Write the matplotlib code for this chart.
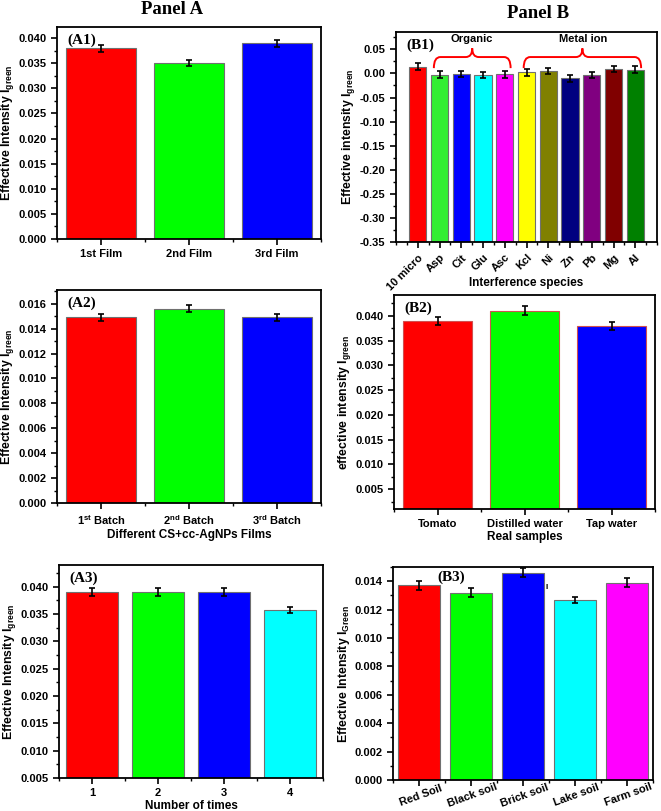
import numpy as np
import matplotlib
matplotlib.use("Agg")
import matplotlib.pyplot as plt
from matplotlib.path import Path
from matplotlib.patches import PathPatch
from matplotlib.ticker import MultipleLocator, AutoMinorLocator, FormatStrFormatter

plt.rcParams["font.family"] = ["Liberation Sans", "DejaVu Sans"]
plt.rcParams["font.weight"] = "bold"
plt.rcParams["mathtext.fontset"] = "custom"
plt.rcParams["mathtext.rm"] = "Liberation Sans:bold"
plt.rcParams["mathtext.it"] = "Liberation Sans:bold"
plt.rcParams["mathtext.bf"] = "Liberation Sans:bold"

# Panel A data
a1_labels = ["1st Film", "2nd Film", "3rd Film"]
a1_values = [0.038, 0.035, 0.039]
a1_errors = [0.0007, 0.0006, 0.0007]

a2_labels = ["1$^{st}$ Batch", "2$^{nd}$ Batch", "3$^{rd}$ Batch"]
a2_values = [0.0149, 0.0156, 0.0149]
a2_errors = [0.0003, 0.0003, 0.0003]

a3_labels = ["1", "2", "3", "4"]
a3_values = [0.0390, 0.0390, 0.0390, 0.0358]
a3_errors = [0.0007, 0.0007, 0.0007, 0.0006]

# Panel B data
b1_labels = ["10 micro", "Asp", "Cit", "Glu", "Asc", "Kcl", "Ni", "Zn", "Pb", "Mg", "Al"]
b1_values = [0.014, -0.003, -0.002, -0.003, -0.002, 0.002, 0.005, -0.010, -0.004, 0.009, 0.008]
b1_errors = [0.007, 0.007, 0.006, 0.006, 0.007, 0.007, 0.007, 0.007, 0.006, 0.007, 0.007]

b2_labels = ["Tomato", "Distilled water", "Tap water"]
b2_values = [0.039, 0.041, 0.038]
b2_errors = [0.0008, 0.0009, 0.0008]

b3_labels = ["Red Soil", "Black soil", "Brick soil", "Lake soil", "Farm soil"]
b3_values = [0.0137, 0.0132, 0.0146, 0.0127, 0.0139]
b3_errors = [0.0003, 0.0003, 0.0003, 0.0002, 0.0003]

rgb3 = ["#ff0000", "#00ff00", "#0000ff"]
rgb4 = ["#ff0000", "#00ff00", "#0000ff", "#00ffff"]
b1_colors = ["#ff0000", "#33ee33", "#0000ff", "#00ffff", "#ff00ff", "#ffff00",
             "#808000", "#000080", "#800080", "#800000", "#008000"]
b3_colors = ["#ff0000", "#00ff00", "#0000ff", "#00ffff", "#ff00ff"]

W, H = 661, 811
fig = plt.figure(figsize=(W / 100, H / 100), dpi=100)


def make_axes(l, r, t, b):
    return fig.add_axes([l / W, 1 - b / H, (r - l) / W, (b - t) / H])


def style(ax, ylim, ystep, xlim, ylabel, xlabel=None, fmt="%.3f"):
    ax.set_ylim(*ylim)
    ax.set_xlim(*xlim)
    ax.yaxis.set_major_locator(MultipleLocator(ystep))
    ax.yaxis.set_minor_locator(AutoMinorLocator(2))
    ax.yaxis.set_major_formatter(FormatStrFormatter(fmt))
    ax.xaxis.set_minor_locator(MultipleLocator(0.5))
    ax.tick_params(axis="both", which="major", direction="out", length=4, width=1.2,
                   labelsize=8, top=False, right=False)
    ax.tick_params(axis="both", which="minor", direction="out", length=2, width=1,
                   top=False, right=False)
    for s in ax.spines.values():
        s.set_linewidth(1.3)
    ax.set_ylabel(ylabel, fontsize=8.8, fontweight="bold", labelpad=2)
    if xlabel:
        ax.set_xlabel(xlabel, fontsize=8.5, fontweight="bold", labelpad=1)


def bars(ax, labels, values, errors, colors, width=0.8, bottom=0, edge="#707070"):
    x = np.arange(1, len(values) + 1)
    vals = np.array(values)
    ax.bar(x, vals - bottom, bottom=bottom, width=width, color=colors,
           edgecolor=edge, linewidth=0.8, zorder=2)
    ax.errorbar(x, vals, yerr=errors, fmt="none", ecolor="black", elinewidth=1.2,
                capsize=2.5, capthick=1.2, zorder=3)
    ax.set_xticks(x)
    ax.set_xticklabels(labels)
    return x


def panel_tag(ax, tag, x=0.04, y=0.97):
    ax.text(x, y, tag, transform=ax.transAxes, ha="left", va="top",
            family="Liberation Serif", fontweight="bold", fontsize=11)


def brace(ax, x0, x1, y_end, y_line, y_peak, color="red"):
    xm = (x0 + x1) / 2
    r = 0.3
    verts = [(x0, y_end), (x0, y_line), (x0 + r, y_line),
             (xm - r, y_line), (xm, y_line), (xm, y_peak),
             (xm, y_line), (xm + r, y_line),
             (x1 - r, y_line), (x1, y_line), (x1, y_end)]
    codes = [Path.MOVETO, Path.CURVE3, Path.CURVE3,
             Path.LINETO, Path.CURVE3, Path.CURVE3,
             Path.CURVE3, Path.CURVE3,
             Path.LINETO, Path.CURVE3, Path.CURVE3]
    ax.add_patch(PathPatch(Path(verts, codes), facecolor="none", edgecolor=color,
                           linewidth=1.4, zorder=4))


lbl = "Effective Intensity I$_{\\mathrm{green}}$"

# A1
ax = make_axes(57, 321, 27, 239)
bars(ax, a1_labels, a1_values, a1_errors, rgb3)
style(ax, (0, 0.0422), 0.005, (0.5, 3.5), lbl)
panel_tag(ax, "(A1)")

# A2
ax = make_axes(57, 321, 290, 503)
bars(ax, a2_labels, a2_values, a2_errors, rgb3)
style(ax, (0, 0.0171), 0.002, (0.5, 3.5), lbl, "Different CS+cc-AgNPs Films")
panel_tag(ax, "(A2)")

# A3
ax = make_axes(59, 323, 565, 778)
bars(ax, a3_labels, a3_values, a3_errors, rgb4, bottom=0.005)
style(ax, (0.005, 0.044), 0.005, (0.5, 4.5), lbl, "Number of times")
panel_tag(ax, "(A3)")

# B1
ax = make_axes(396, 657, 32, 242)
x = bars(ax, b1_labels, b1_values, b1_errors, b1_colors, bottom=-0.35)
style(ax, (-0.35, 0.086), 0.05, (0, 12), "Effective intensity I$_{\\mathrm{green}}$",
      "Interference species", fmt="%.2f")
ax.xaxis.set_label_coords(0.5, -0.165)
for t in ax.get_xticklabels():
    t.set_rotation(45)
    t.set_ha("right")
    t.set_rotation_mode("anchor")
panel_tag(ax, "(B1)", x=0.04, y=0.97)
brace(ax, x[1] - 0.26, x[4] + 0.27, 0.011, 0.034, 0.052)
brace(ax, x[5] - 0.13, x[10] + 0.27, 0.011, 0.034, 0.052)
ax.text((x[1] + x[4]) / 2, 0.0715, "Organic", ha="center", va="center", fontsize=8,
        fontweight="bold")
ax.text((x[5] + x[10]) / 2 + 0.1, 0.0715, "Metal ion", ha="center", va="center",
        fontsize=8, fontweight="bold")

# B2
ax = make_axes(394, 655, 295, 509)
bars(ax, b2_labels, b2_values, b2_errors, rgb3, bottom=0.001, edge="#d05050")
style(ax, (0.001, 0.0442), 0.005, (0.5, 3.5), "effective intensity I$_{\\mathrm{green}}$",
      "Real samples")
ax.set_yticks(np.arange(0.005, 0.0401, 0.005))
panel_tag(ax, "(B2)", x=0.04)

# B3
ax = make_axes(393, 653, 567, 780)
bars(ax, b3_labels, b3_values, b3_errors, b3_colors)
style(ax, (0, 0.0150), 0.002, (0.5, 5.5), "Effective Intensity I$_{\\mathrm{Green}}$")
for t in ax.get_xticklabels():
    t.set_rotation(20)
    t.set_ha("center")
    t.set_va("top")
    t.set_rotation_mode("anchor")
panel_tag(ax, "(B3)", x=0.17, y=0.985)
ax.text(0.592, 0.905, "I", transform=ax.transAxes, fontsize=6, ha="center", va="center")

fig.text(172 / W, 1 - 10 / H, "Panel A", ha="center", va="center",
         family="Liberation Serif", fontweight="bold", fontsize=13.5)
fig.text(538 / W, 1 - 13 / H, "Panel B", ha="center", va="center",
         family="Liberation Serif", fontweight="bold", fontsize=13.5)

fig.savefig("out.png", dpi=100)
